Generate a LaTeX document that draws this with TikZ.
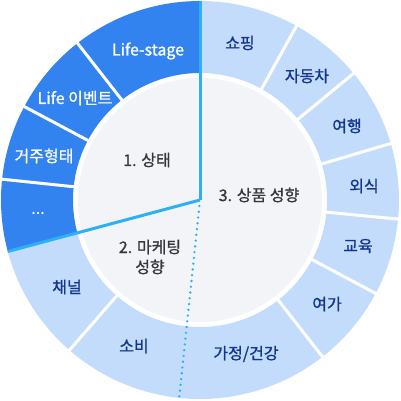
\documentclass[tikz,border=0pt]{standalone}
\usepackage{fontspec}
\setmainfont{Noto Sans CJK KR}
\newfontfamily\medfont{Noto Sans CJK KR}[FakeBold=1]
\usepackage{xcolor}
\usepackage{tikz}
\usetikzlibrary{positioning, calc}

\definecolor{ringdark}{HTML}{3282F0}
\definecolor{ringlight}{HTML}{C3DCFB}
\definecolor{coreface}{HTML}{F3F4F8}
\definecolor{splitcyan}{HTML}{2DB0F5}
\definecolor{navytext}{HTML}{13368C}
\definecolor{coretext}{HTML}{33363D}

\begin{document}
\begin{tikzpicture}[x=1pt, y=1pt,
  darkpart/.style={fill=ringdark},
  lightpart/.style={fill=ringlight},
  darklabel/.style={text=white, font=\medfont\fontsize{16}{19}\selectfont},
  lightlabel/.style={text=navytext, font=\medfont\fontsize{16}{19}\selectfont},
  corelabel/.style={text=coretext, align=center, font=\medfont\fontsize{16}{20}\selectfont},
  gapline/.style={white, line width=3pt},
  splitline/.style={splitcyan, line width=3pt}]
  \useasboundingbox (-200,-200) rectangle (201,200);
  % outer ring
  \foreach \a/\b in {90/128,128/152,152/174,174/195}{
    \fill[darkpart] (\a:127pt) arc[start angle=\a, end angle=\b, radius=127pt] -- (\b:199pt) arc[start angle=\b, end angle=\a, radius=199pt] -- cycle;}
  \foreach \a/\b in {195/229,229/264,264/308,308/332,332/354.5,354.5/376.5,376.5/399.5,399.5/421,421/450}{
    \fill[lightpart] (\a:127pt) arc[start angle=\a, end angle=\b, radius=127pt] -- (\b:199pt) arc[start angle=\b, end angle=\a, radius=199pt] -- cycle;}
  \foreach \a in {128,152,174,229,308,332,354.5,376.5,399.5,421}{\draw[gapline] (\a:126pt) -- (\a:200pt);}
  % core
  \fill[coreface] (0,0) circle[radius=122pt];
  \coordinate (C) at (0,0);
  \coordinate (T) at (90:199pt);
  \coordinate (L) at (195:199pt);
  \coordinate (D0) at (264:6pt);
  \coordinate (D) at (264:198pt);
  \draw[splitline] (C) -- (T);
  \draw[splitline] (C) -- (L);
  \draw[splitcyan, line width=2.6pt, line cap=round, dash pattern=on 0pt off 5.8pt] (D0) -- (D);
  \node[corelabel] (state) at (-53,40) {1. 상태};
  \node[corelabel] (marketing) at (-50,-57) {2. 마케팅\\성향};
  \node[corelabel] (product) at (59,5) {3. 상품 성향};
  \node[darklabel] (lifestage) at (-52,149) {Life-stage};
  \node[darklabel] (lifeevent) at (-125,102) {Life 이벤트};
  \node[darklabel] (housing) at (-156,44) {거주형태};
  \node[darklabel] (etc) at (-162,-13) {...};
  \node[lightlabel] (channel) at (-133,-87) {채널};
  \node[lightlabel] (spend) at (-66,-146) {소비};
  \node[lightlabel] (home) at (46,-154) {가정/건강};
  \node[lightlabel] (leisure) at (127,-104) {여가};
  \node[lightlabel] (edu) at (158,-46) {교육};
  \node[lightlabel] (dining) at (164,14) {외식};
  \node[lightlabel] (travel) at (147,74) {여행};
  \node[lightlabel] (car) at (107,124) {자동차};
  \node[lightlabel] (shop) at (40,157) {쇼핑};
\end{tikzpicture}
\end{document}
